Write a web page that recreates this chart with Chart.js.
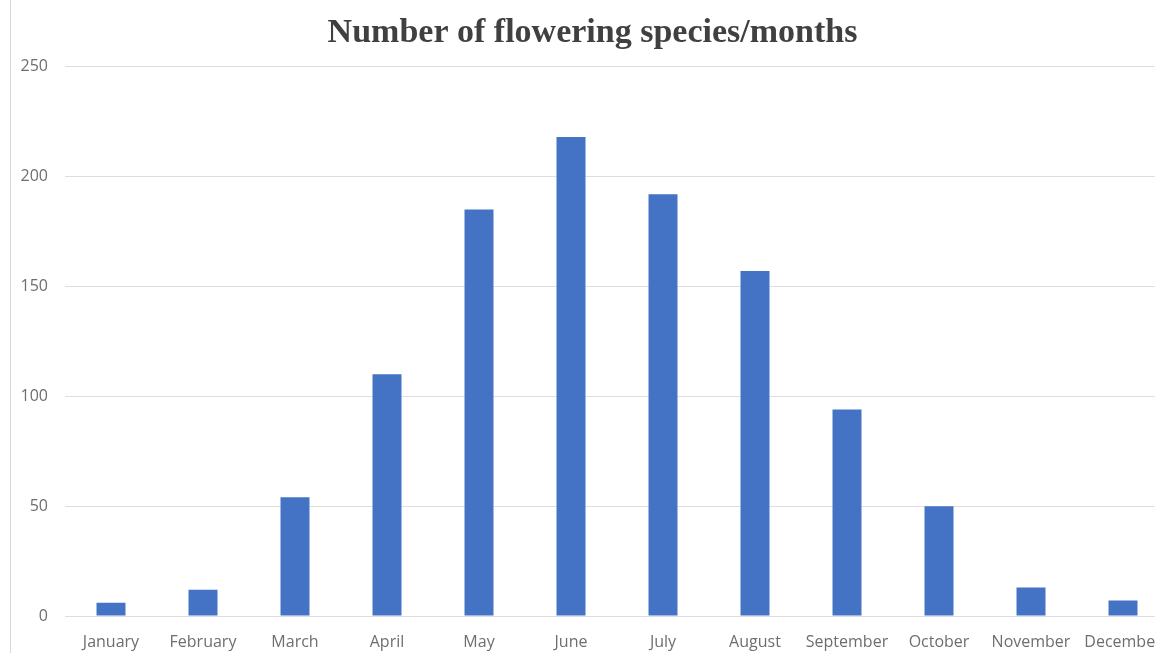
<!DOCTYPE html>
<html>
<head>
<meta charset="utf-8">
<script src="https://cdn.jsdelivr.net/npm/chart.js@4/dist/chart.umd.min.js"></script>
<style>
    html, body { margin: 0; padding: 0; background: #fff; }
    #wrap { position: relative; width: 1155px; height: 653px; overflow: hidden; }
    #frame { position: absolute; left: 10px; top: 0; width: 0; height: 653px; border-left: 1px solid #d9d9d9; }
    #box { position: absolute; left: 0; top: 0; width: 1180px; height: 653px; }
</style>
</head>
<body>
<div id="wrap">
    <div id="box"><canvas id="flowerChart"></canvas></div>
    <div id="frame"></div>
</div>
<script>
// Species in flower per month
const months = ['January', 'February', 'March', 'April', 'May', 'June',
    'July', 'August', 'September', 'October', 'November', 'December'];
const speciesCount = [6, 12, 54, 110, 185, 218, 192, 157, 94, 50, 13, 7];
const yTicks = [0, 50, 100, 150, 200, 250];

const ctx = document.getElementById('flowerChart').getContext('2d');

new Chart(ctx, {
    type: 'bar',
    data: {
        labels: months,
        datasets: [{
            label: 'Flowering species',
            data: speciesCount,
            backgroundColor: '#4472c4',
            borderWidth: 0,
            categoryPercentage: 1,
            barPercentage: 0.315
        }]
    },
    options: {
        responsive: true,
        maintainAspectRatio: false,
        animation: false,
        layout: { padding: { left: 16, right: 11, top: 0, bottom: 0 } },
        plugins: {
            legend: { display: false },
            tooltip: { enabled: false },
            title: {
                display: true,
                text: 'Number of flowering species/months',
                color: '#404040',
                font: { family: 'Liberation Serif', size: 34, weight: 'bold' },
                padding: { top: 13, bottom: 13 }
            }
        },
        scales: {
            x: {
                grid: { display: false },
                border: { display: false },
                afterFit: axis => { axis.height = 37; },
                ticks: {
                    color: '#6e6e6e',
                    font: { family: 'Open Sans', size: 16 },
                    padding: 9,
                    maxRotation: 0,
                    autoSkip: false
                }
            },
            y: {
                min: yTicks[0],
                max: yTicks[yTicks.length - 1],
                afterBuildTicks: axis => { axis.ticks = yTicks.map(v => ({ value: v })); },
                afterFit: axis => { axis.width = 49; },
                grid: { color: '#dedede', drawTicks: false },
                border: { display: false },
                ticks: {
                    color: '#6e6e6e',
                    font: { family: 'Open Sans', size: 16 },
                    padding: 17
                }
            }
        }
    }
});
</script>
</body>
</html>
